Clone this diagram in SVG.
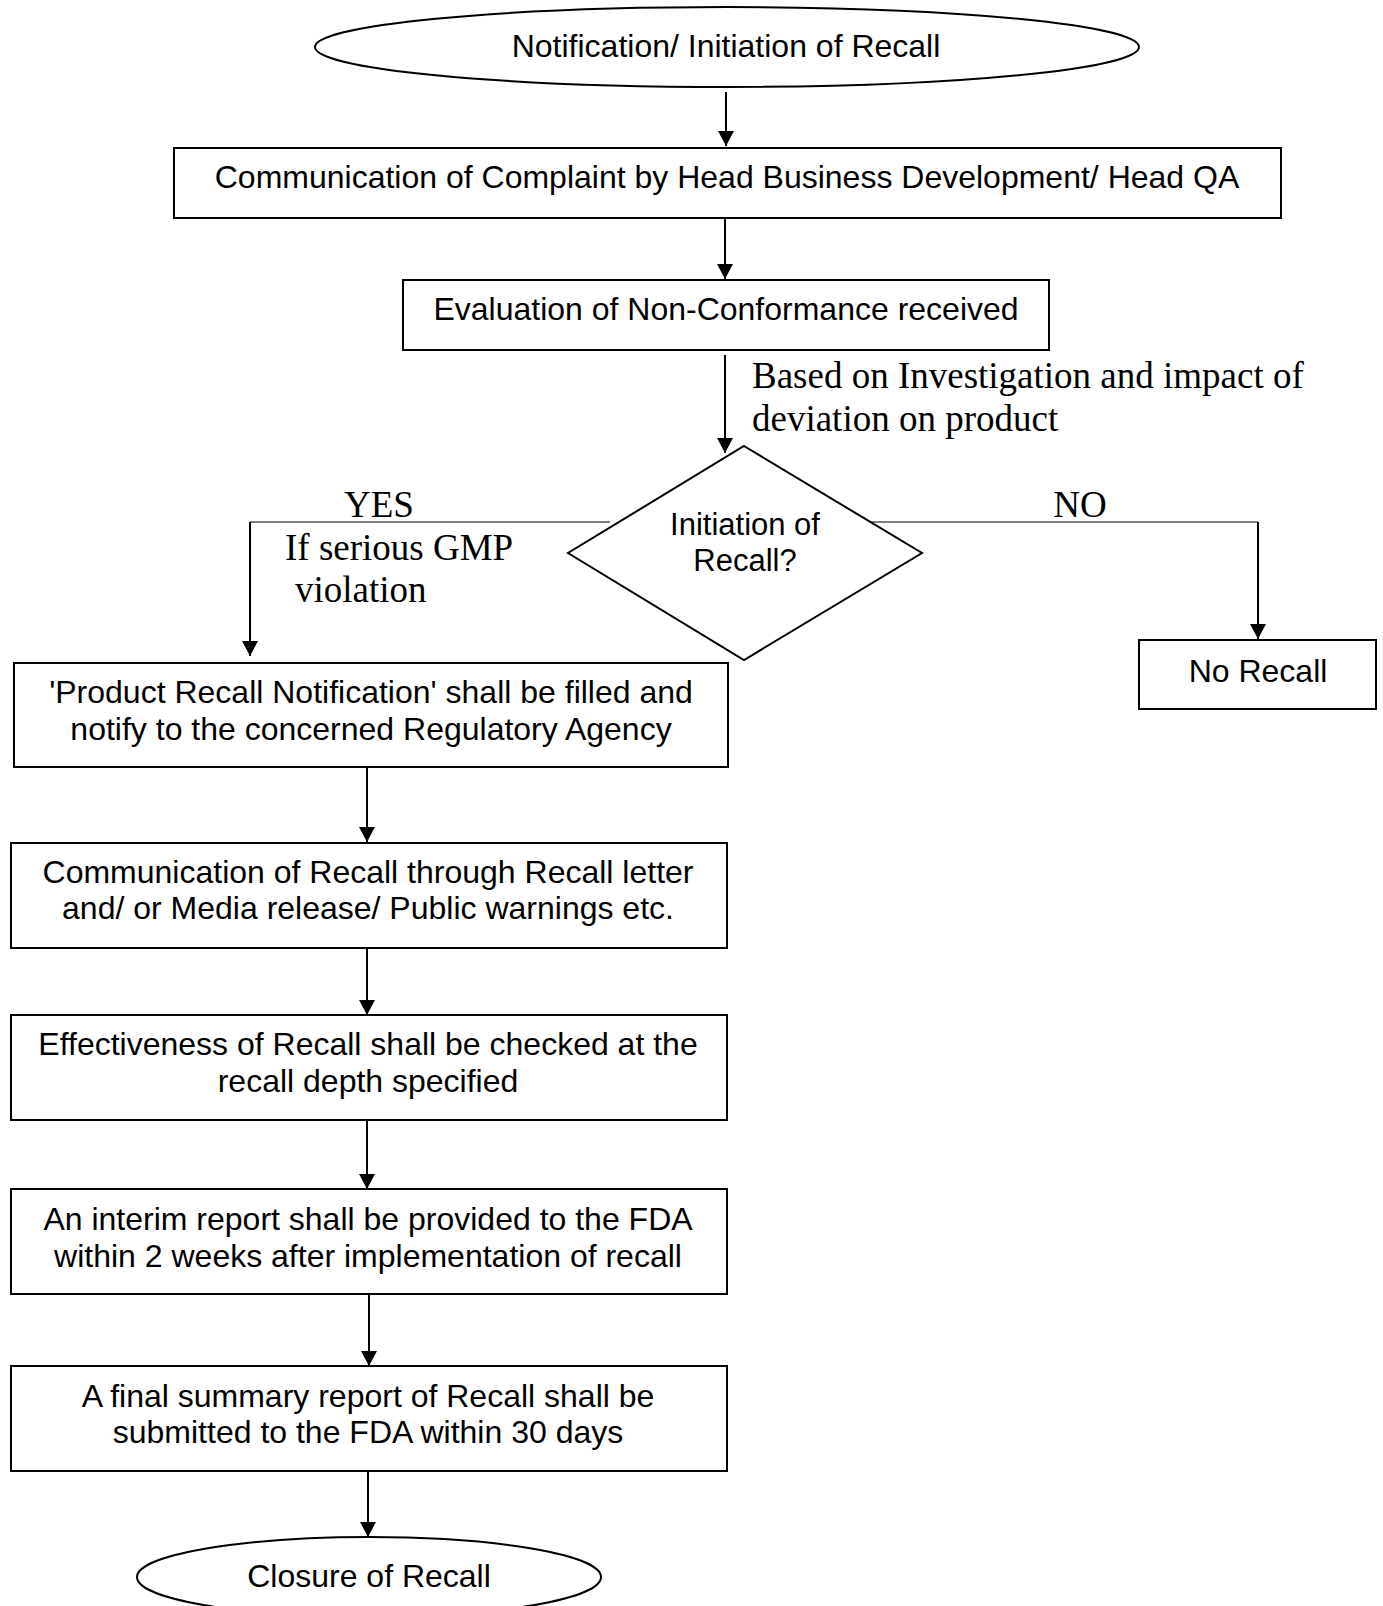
<svg xmlns="http://www.w3.org/2000/svg" width="1383" height="1606" viewBox="0 0 1383 1606">
<style>
.shape{fill:#fff;stroke:#000;stroke-width:2}
.t{font-family:"Liberation Sans",Arial,sans-serif;font-size:32px;fill:#000;text-anchor:middle}
.td{font-family:"Liberation Sans",Arial,sans-serif;font-size:31px;fill:#000;text-anchor:middle}
.lbl{font-family:"Liberation Serif","Times New Roman",serif;font-size:37px;fill:#000}
.c{fill:none;stroke:#000;stroke-width:2}
.thin{fill:none;stroke:#000;stroke-width:1.2}
</style>
<defs>
<marker id="ah" markerUnits="userSpaceOnUse" markerWidth="15" markerHeight="16" refX="15" refY="8" orient="auto" viewBox="0 0 15 16">
<path d="M0,0 L15,8 L0,16 z" fill="#000"/>
</marker>
</defs>
<rect width="1383" height="1606" fill="#fff"/>
<g id="connectors">
<line class="c" x1="726" y1="92" x2="726" y2="146" marker-end="url(#ah)"/>
<line class="c" x1="725" y1="218" x2="725" y2="279" marker-end="url(#ah)"/>
<line class="c" x1="725" y1="355" x2="725" y2="453" marker-end="url(#ah)"/>
<polyline class="thin" points="610,522 250,522"/>
<line class="c" x1="250" y1="522" x2="250" y2="656" marker-end="url(#ah)"/>
<polyline class="thin" points="870,522 1258,522"/>
<line class="c" x1="1258" y1="522" x2="1258" y2="639" marker-end="url(#ah)"/>
<line class="c" x1="367" y1="767" x2="367" y2="842" marker-end="url(#ah)"/>
<line class="c" x1="367" y1="948" x2="367" y2="1015" marker-end="url(#ah)"/>
<line class="c" x1="367" y1="1120" x2="367" y2="1189" marker-end="url(#ah)"/>
<line class="c" x1="369" y1="1294" x2="369" y2="1366" marker-end="url(#ah)"/>
<line class="c" x1="368" y1="1471" x2="368" y2="1537" marker-end="url(#ah)"/>
</g>
<g id="labels">
<text class="lbl" x="752" y="388">Based on Investigation and impact of</text>
<text class="lbl" x="752" y="431">deviation on product</text>
<text class="lbl" x="379" y="517" text-anchor="middle">YES</text>
<text class="lbl" x="285" y="560">If serious GMP</text>
<text class="lbl" x="295" y="602">violation</text>
<text class="lbl" x="1080" y="517" text-anchor="middle">NO</text>
</g>
<g id="start">
<ellipse class="shape" cx="727" cy="47" rx="412" ry="40"/>
<text class="t" x="726" y="57">Notification/ Initiation of Recall</text>
</g>
<g id="communication">
<rect class="shape" x="174" y="148" width="1107" height="70"/>
<text class="t" x="727" y="188">Communication of Complaint by Head Business Development/ Head QA</text>
</g>
<g id="evaluation">
<rect class="shape" x="403" y="280" width="646" height="70"/>
<text class="t" x="726" y="320">Evaluation of Non-Conformance received</text>
</g>
<g id="decision">
<polygon class="shape" points="744,446 922,553 744,660 568,553"/>
<text class="td" x="745" y="535">Initiation of</text>
<text class="td" x="745" y="571">Recall?</text>
</g>
<g id="norecall">
<rect class="shape" x="1139" y="640" width="237" height="69"/>
<text class="t" x="1258" y="682">No Recall</text>
</g>
<g id="notify">
<rect class="shape" x="14" y="663" width="714" height="104"/>
<text class="t" x="371" y="703">'Product Recall Notification' shall be filled and</text>
<text class="t" x="371" y="740">notify to the concerned Regulatory Agency</text>
</g>
<g id="communicate-recall">
<rect class="shape" x="11" y="843" width="716" height="105"/>
<text class="t" x="368" y="883">Communication of Recall through Recall letter</text>
<text class="t" x="368" y="919">and/ or Media release/ Public warnings etc.</text>
</g>
<g id="effectiveness">
<rect class="shape" x="11" y="1015" width="716" height="105"/>
<text class="t" x="368" y="1055">Effectiveness of Recall shall be checked at the</text>
<text class="t" x="368" y="1092">recall depth specified</text>
</g>
<g id="interim">
<rect class="shape" x="11" y="1189" width="716" height="105"/>
<text class="t" x="368" y="1230">An interim report shall be provided to the FDA</text>
<text class="t" x="368" y="1267">within 2 weeks after implementation of recall</text>
</g>
<g id="final">
<rect class="shape" x="11" y="1366" width="716" height="105"/>
<text class="t" x="368" y="1407">A final summary report of Recall shall be</text>
<text class="t" x="368" y="1443">submitted to the FDA within 30 days</text>
</g>
<g id="closure">
<ellipse class="shape" cx="369" cy="1577" rx="232" ry="40"/>
<text class="t" x="369" y="1587">Closure of Recall</text>
</g>
</svg>
